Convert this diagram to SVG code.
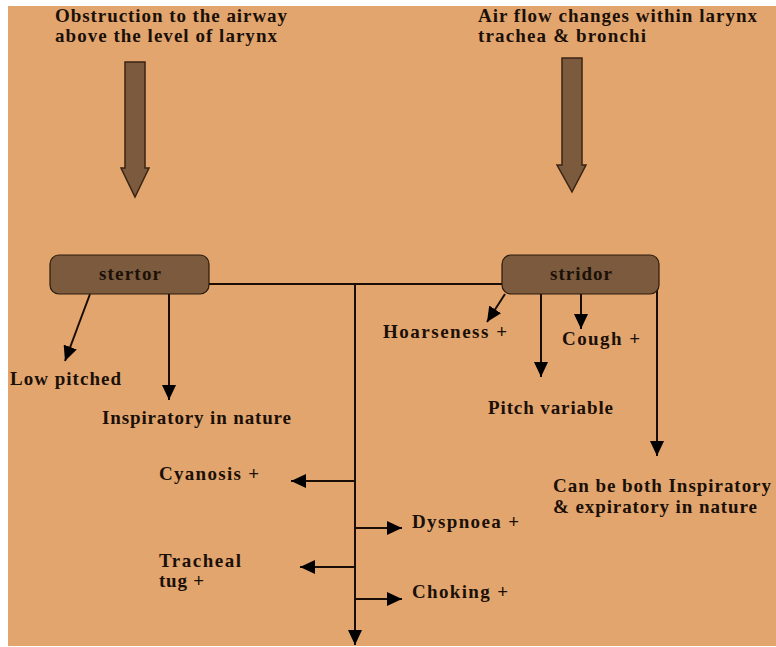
<svg xmlns="http://www.w3.org/2000/svg" width="776" height="647" viewBox="0 0 776 647">
<defs>
<style>
text{font-family:"Liberation Serif","Times New Roman",serif;font-weight:bold;font-size:19px;fill:#1a1008}
.ln{stroke:#1a0d05;stroke-width:2;fill:none}
.box{fill:#7b5a3d;stroke:#2a1a0c;stroke-width:1.2}
.big{fill:#7b5a3d;stroke:#3a2414;stroke-width:1.5}
</style>
<marker id="ahb" markerWidth="15" markerHeight="14" refX="15" refY="7" orient="auto" markerUnits="userSpaceOnUse" viewBox="0 0 15 14">
<path d="M0,0 L15,7 L0,14 Z" fill="#000"/>
</marker>
</defs>
<rect x="0" y="0" width="776" height="647" fill="#ffffff"/>
<rect x="8" y="6" width="768" height="640" fill="#e3a56e"/>

<g id="top-left">
<text x="55" y="22" textLength="232" lengthAdjust="spacing">Obstruction to the airway</text>
<text x="55" y="42" textLength="222" lengthAdjust="spacing">above the level of larynx</text>
<path class="big" d="M125,62 H145 V168 H149 L135,197 L121,168 H125 Z"/>
</g>
<g id="top-right">
<text x="478" y="22" textLength="279" lengthAdjust="spacing">Air flow changes within larynx</text>
<text x="478" y="42" textLength="168" lengthAdjust="spacing">trachea &amp; bronchi</text>
<path class="big" d="M562,58 H582 V165 H586 L572,192 L557,165 H562 Z"/>
</g>

<g id="connectors">
<line class="ln" x1="209" y1="284" x2="502" y2="284"/>
<line class="ln" x1="355" y1="284" x2="355" y2="645" marker-end="url(#ahb)"/>
<line class="ln" x1="90" y1="294" x2="65" y2="361" marker-end="url(#ahb)"/>
<line class="ln" x1="169" y1="294" x2="169" y2="400" marker-end="url(#ahb)"/>
<line class="ln" x1="505" y1="294" x2="487" y2="322" marker-end="url(#ahb)"/>
<line class="ln" x1="541" y1="294" x2="541" y2="377" marker-end="url(#ahb)"/>
<line class="ln" x1="581" y1="294" x2="581" y2="329" marker-end="url(#ahb)"/>
<line class="ln" x1="657" y1="290" x2="657" y2="456" marker-end="url(#ahb)"/>
<line class="ln" x1="355" y1="481" x2="291" y2="481" marker-end="url(#ahb)"/>
<line class="ln" x1="355" y1="528" x2="402" y2="528" marker-end="url(#ahb)"/>
<line class="ln" x1="355" y1="567" x2="300" y2="567" marker-end="url(#ahb)"/>
<line class="ln" x1="355" y1="599" x2="402" y2="599" marker-end="url(#ahb)"/>
</g>

<g id="stertor">
<rect class="box" x="50" y="255" width="159" height="39" rx="9"/>
<text x="99" y="280" textLength="62" lengthAdjust="spacing">stertor</text>
</g>
<g id="stridor">
<rect class="box" x="502" y="255" width="157" height="39" rx="9"/>
<text x="550" y="280" textLength="62" lengthAdjust="spacing">stridor</text>
</g>

<g id="low-pitched"><text x="10" y="385" textLength="111" lengthAdjust="spacing">Low pitched</text></g>
<g id="inspiratory"><text x="102" y="424" textLength="189" lengthAdjust="spacing">Inspiratory in nature</text></g>
<g id="hoarseness"><text x="383" y="338" textLength="124" lengthAdjust="spacing">Hoarseness +</text></g>
<g id="cough"><text x="562" y="345" textLength="78" lengthAdjust="spacing">Cough +</text></g>
<g id="pitch"><text x="488" y="414" textLength="125" lengthAdjust="spacing">Pitch variable</text></g>
<g id="both">
<text x="553" y="492" textLength="218" lengthAdjust="spacing">Can be both Inspiratory</text>
<text x="553" y="513" textLength="204" lengthAdjust="spacing">&amp; expiratory in nature</text>
</g>
<g id="cyanosis"><text x="159" y="480" textLength="100" lengthAdjust="spacing">Cyanosis +</text></g>
<g id="dyspnoea"><text x="412" y="528" textLength="107" lengthAdjust="spacing">Dyspnoea +</text></g>
<g id="tracheal">
<text x="159" y="567" textLength="82" lengthAdjust="spacing">Tracheal</text>
<text x="159" y="587" textLength="45" lengthAdjust="spacing">tug +</text>
</g>
<g id="choking"><text x="412" y="598" textLength="96" lengthAdjust="spacing">Choking +</text></g>
</svg>
